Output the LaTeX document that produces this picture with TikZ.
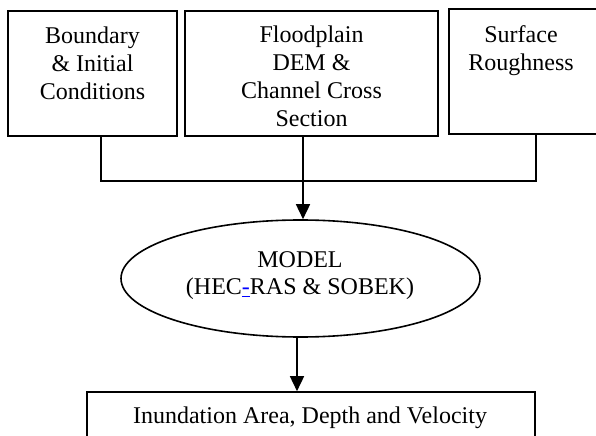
\documentclass[tikz,border=0pt]{standalone}
\usepackage{fontspec}
\setmainfont{Liberation Serif}
\usetikzlibrary{shapes.geometric,arrows.meta}
\begin{document}
\begin{tikzpicture}[x=1bp,y=-1bp,
  box/.style={draw,line width=1.6bp,inner sep=0pt},
  lbl/.style={anchor=base,align=center,inner sep=0pt,font=\fontsize{24bp}{27.8bp}\selectfont},
  conn/.style={line width=1.6bp},
  arr/.style={line width=1.6bp,-{Triangle[length=15bp,width=14bp]}}]
\useasboundingbox (0,0) rectangle (596,436);
\clip (0,0) rectangle (596,436);
% boxes
\node[box,minimum width=169bp,minimum height=125bp] (b1) at (92.5,73.5) {};
\node[box,minimum width=253bp,minimum height=125bp] (b2) at (311.5,73.5) {};
\node[box,minimum width=160bp,minimum height=125bp] (b3) at (529,71.5) {};
\node[draw,ellipse,line width=1.6bp,minimum width=359bp,minimum height=117bp,inner sep=0pt] (mdl) at (300.5,278.5) {};
\node[box,minimum width=448bp,minimum height=60bp] (out) at (311,422) {};
% texts (base anchor = baseline of last line)
\node[lbl] (t1) at (92.5,99.6) {Boundary\\\& Initial\\Conditions};
\node[lbl] (t2) at (311.5,126.4) {Floodplain\\DEM \&\\Channel Cross\\Section};
\node[lbl] (t3) at (521,70.8) {Surface\\Roughness};
\node[lbl] (tm) at (300,295) {MODEL\\(HEC\textcolor{blue}{\underline{-}}RAS \& SOBEK)};
\node[lbl] (to) at (310,423) {Inundation Area, Depth and Velocity};
% connectors
\coordinate (j1) at (101,181);
\coordinate (j3) at (536,181);
\coordinate (ja) at (303,181);
\coordinate (jb) at (297,300);
\draw[conn] (b1.south -| j1) -- (j1) -- (j3) -- (b3.south -| j3);
\draw[arr] (b2.south -| ja) -- (mdl.north -| ja);
\draw[arr] (mdl.south -| jb) -- (out.north -| jb);
\end{tikzpicture}
\end{document}
